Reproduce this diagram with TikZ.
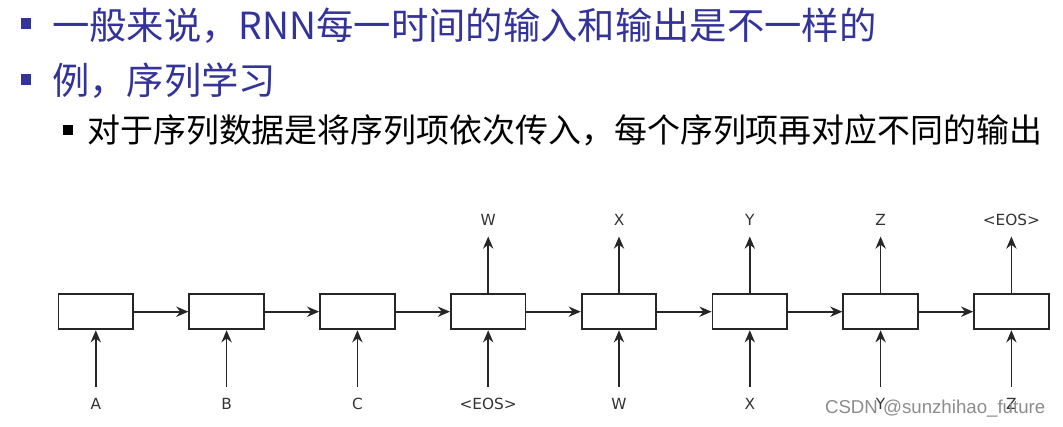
\documentclass[tikz,border=0pt]{standalone}
\usepackage{fontspec}
\setmainfont{Noto Sans CJK SC}
\newfontfamily\tokfont{DejaVu Sans}
\newfontfamily\markfont{Liberation Sans}
\usepackage{xcolor}
\usetikzlibrary{arrows.meta, positioning}
\definecolor{slideblue}{RGB}{51,51,153}

\begin{document}
\begin{tikzpicture}[
    x=0.75pt, y=-0.75pt,
    node distance=42.5pt and 40.8pt,
    cell/.style={rectangle, draw=black!85, line width=1.3pt, minimum width=56pt, minimum height=26.5pt, inner sep=0pt},
    tok/.style={font=\tokfont\fontsize{11.5}{13}\selectfont, text=black!80, inner sep=8pt, text height=8.4pt, text depth=0pt},
    bullet/.style={rectangle, fill=#1, inner sep=0pt, minimum size=8pt},
    line/.style={anchor=base west, inner sep=0pt},
    arrow/.style={-{Stealth[length=3.2mm, width=2.7mm]}, line width=1.3pt, draw=black!85}
]
\useasboundingbox (0,0) rectangle (1063,427);
% slide text
\node[bullet=slideblue] (bul1) at (26,23.5) {};
\node[line, text=slideblue, font=\fontsize{28}{34}\selectfont] (line1) at (52,39.5) {一般来说，RNN每一时间的输入和输出是不一样的};
\node[bullet=slideblue] (bul2) at (26,79.5) {};
\node[line, text=slideblue, font=\fontsize{28}{34}\selectfont] (line2) at (52,95) {例，序列学习};
\node[bullet=black, minimum size=7.5pt] (bul3) at (68,130) {};
\node[line, font=\fontsize{24.7}{30}\selectfont] (line3) at (87,142.5) {对于序列数据是将序列项依次传入，每个序列项再对应不同的输出};
% rnn cells
\node[cell] (h1) at (95.8,311.7) {};
\node[cell, right=of h1] (h2) {};
\node[cell, right=of h2] (h3) {};
\node[cell, right=of h3] (h4) {};
\node[cell, right=of h4] (h5) {};
\node[cell, right=of h5] (h6) {};
\node[cell, right=of h6] (h7) {};
\node[cell, right=of h7] (h8) {};
% inputs
\node[tok, below=of h1] (in1) {A};
\node[tok, below=of h2] (in2) {B};
\node[tok, below=of h3] (in3) {C};
\node[tok, below=of h4] (in4) {<EOS>};
\node[tok, below=of h5] (in5) {W};
\node[tok, below=of h6] (in6) {X};
\node[tok, below=of h7] (in7) {Y};
\node[tok, below=of h8] (in8) {Z};
% outputs
\node[tok, above=of h4] (out4) {W};
\node[tok, above=of h5] (out5) {X};
\node[tok, above=of h6] (out6) {Y};
\node[tok, above=of h7] (out7) {Z};
\node[tok, above=of h8] (out8) {<EOS>};
\draw[arrow] (h1) -- (h2);
\draw[arrow] (h2) -- (h3);
\draw[arrow] (h3) -- (h4);
\draw[arrow] (h4) -- (h5);
\draw[arrow] (h5) -- (h6);
\draw[arrow] (h6) -- (h7);
\draw[arrow] (h7) -- (h8);
\draw[arrow] (in1) -- (h1);
\draw[arrow] (in2) -- (h2);
\draw[arrow] (in3) -- (h3);
\draw[arrow] (in4) -- (h4);
\draw[arrow] (in5) -- (h5);
\draw[arrow] (in6) -- (h6);
\draw[arrow] (in7) -- (h7);
\draw[arrow] (in8) -- (h8);
\draw[arrow] (h4) -- (out4);
\draw[arrow] (h5) -- (out5);
\draw[arrow] (h6) -- (out6);
\draw[arrow] (h7) -- (out7);
\draw[arrow] (h8) -- (out8);
% watermark
\node[anchor=east, font=\markfont\fontsize{14}{16}\selectfont, text=black!45] (mark) at (1050,409) {CSDN @sunzhihao\_future};
\end{tikzpicture}
\end{document}
